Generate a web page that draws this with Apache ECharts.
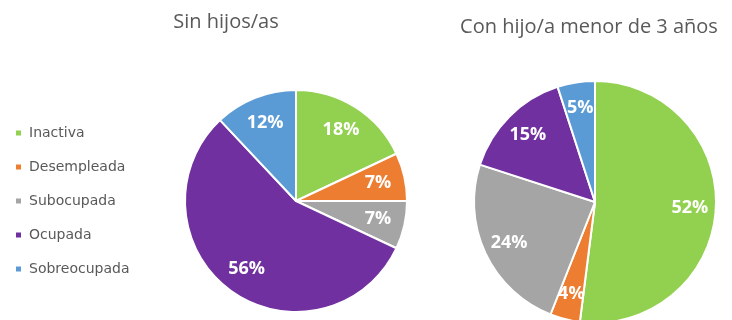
<!DOCTYPE html>
<html>
<head>
<meta charset="utf-8">
<script src="https://cdn.jsdelivr.net/npm/echarts@6/dist/echarts.min.js"></script>
<style>html,body{margin:0;padding:0;background:#fff;}#c{width:732px;height:320px;}</style>
</head>
<body>
<div id="c"></div>
<script>
const categories = ['Inactiva', 'Desempleada', 'Subocupada', 'Ocupada', 'Sobreocupada'];
const sinHijos = [18, 7, 7, 56, 12];
const conHijo = [52, 4, 24, 15, 5];
const titles = ['Sin hijos/as', 'Con hijo/a menor de 3 años'];
const colors = ['#92D050', '#ED7D31', '#A5A5A5', '#7030A0', '#5B9BD5'];

const chart = echarts.init(document.getElementById('c'), null, {renderer: 'canvas'});
function pieData(vals) {
  return categories.map((n, i) => ({name: n, value: vals[i], itemStyle: {color: colors[i]}}));
}
function pies(vals, center, r, labelRatio) {
  return [
    {
      type: 'pie', center: center, radius: r, startAngle: 90, clockwise: true,
      data: pieData(vals), label: {show: false}, labelLine: {show: false},
      itemStyle: {borderColor: '#fff', borderWidth: 2},
      silent: true, animation: false
    },
    {
      type: 'pie', center: center, radius: [Math.round(r * (2 * labelRatio - 1)), r], startAngle: 90, clockwise: true,
      data: categories.map((n, i) => ({name: n, value: vals[i], itemStyle: {color: 'rgba(0,0,0,0)'}})),
      label: {show: true, position: 'inside', formatter: '{c}%', color: '#fff',
        fontFamily: 'Open Sans', fontWeight: 'bold', fontSize: 18},
      labelLine: {show: false}, silent: true, animation: false, legendHoverLink: false
    }
  ];
}
chart.setOption({
  color: colors,
  animation: false,
  title: [
    {text: titles[0], left: 221, top: 7, textAlign: 'center',
      textStyle: {fontFamily: 'Open Sans', fontWeight: 'normal', fontSize: 20, color: '#595959'}},
    {text: titles[1], left: 584, top: 12, textAlign: 'center',
      textStyle: {fontFamily: 'Open Sans', fontWeight: 'normal', fontSize: 20, color: '#595959'}}
  ],
  legend: {
    orient: 'vertical', left: 9, top: 121, itemWidth: 7, itemHeight: 7, itemGap: 20,
    icon: 'rect', data: categories,
    textStyle: {fontFamily: 'DejaVu Sans', fontSize: 14, color: '#595959', padding: [0, 0, 0, 2]}
  },
  series: [].concat(pies(sinHijos, [296, 201], 111, 0.73), pies(conHijo, [595, 202], 121, 0.76))
});
</script>
</body>
</html>
